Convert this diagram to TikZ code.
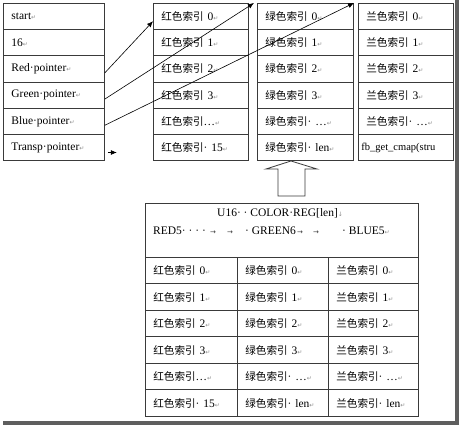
\documentclass[tikz,border=0pt]{standalone}
\usepackage{fontspec}
\setmainfont{Liberation Serif}
\newfontfamily\cjk[Scale=0.92]{Noto Sans CJK SC}
\newfontfamily\symfont{DejaVu Sans}
\usepackage{xcolor}
\usepackage{tikz}
\usetikzlibrary{arrows.meta,positioning,calc}
\definecolor{gridgray}{HTML}{3A3A3A}
\definecolor{markgray}{HTML}{8C8C8C}
\definecolor{framegray}{HTML}{5E5E5E}
\newcommand{\zh}[1]{{\cjk #1}}
\newcommand{\pmk}{{\symfont\fontsize{6}{6}\selectfont\textcolor{markgray}{↵}}}
\newcommand{\brk}{{\symfont\fontsize{6}{6}\selectfont\textcolor{markgray}{↓}}}
\newcommand{\tabmk}{{\symfont\fontsize{7}{7}\selectfont\textcolor{gridgray}{→}}}
\tikzset{
  cell/.style={rectangle,draw=gridgray,line width=0.8pt,anchor=north west,minimum height=26.2pt,inner xsep=8pt,inner ysep=0pt,align=left,font=\fontsize{11.5}{13}\selectfont},
  tcell/.style={cell,minimum height=26.5pt},
  txt/.style={inner sep=0pt,anchor=west,font=\fontsize{11.5}{13}\selectfont},
  ptr/.style={-{Latex[length=6pt,width=5pt]},line width=0.6pt,draw=black},
  hollow/.style={draw=gridgray,line width=0.8pt,fill=white}
}
\begin{document}
\begin{tikzpicture}[x=1pt,y=-1pt]
\useasboundingbox (0,0) rectangle (459,425);
% frame shadow
\fill[framegray] (455,0) rectangle (459,425);
\fill[framegray] (3,421) rectangle (459,425);
% pointer list
\foreach \t [count=\i] in {start,16,Red·pointer,Green·pointer,Blue·pointer,Transp·pointer}
  \node[cell,text width=85pt] (l\i) at (3,{3+(\i-1)*26.2}) {\t\pmk};
% colour arrays
\foreach \t [count=\i] in {{\zh{红色索引}\ 0},{\zh{红色索引}\ 1},{\zh{红色索引}\ 2},{\zh{红色索引}\ 3},{\zh{红色索引}…},{\zh{红色索引}·\ 15}}
  \node[cell,text width=79pt] (r\i) at (153,{3+(\i-1)*26.2}) {\t\pmk};
\foreach \t [count=\i] in {{\zh{绿色索引}\ 0},{\zh{绿色索引}\ 1},{\zh{绿色索引}\ 2},{\zh{绿色索引}\ 3},{\zh{绿色索引}·\ …},{\zh{绿色索引}·\ len}}
  \node[cell,text width=80pt] (g\i) at (257,{3+(\i-1)*26.2}) {\t\pmk};
\foreach \t [count=\i] in {{\zh{兰色索引}\ 0},{\zh{兰色索引}\ 1},{\zh{兰色索引}\ 2},{\zh{兰色索引}\ 3},{\zh{兰色索引}·\ …}}
  \node[cell,text width=79pt] (b\i) at (358,{3+(\i-1)*26.2}) {\t\pmk};
\node[cell,text width=89pt,inner xsep=3pt,font=\fontsize{10.5}{12}\selectfont] (b6) at (358,{3+5*26.2}) {fb\_get\_cmap(stru};
% pointers
\draw[ptr] ([yshift=-4pt]l3.east) -- ($(r1.west)!0.35!(r1.south west)$);
\draw[ptr] ([yshift=-4pt]l4.east) -- ([xshift=-3pt]g1.north west);
\draw[ptr] ([yshift=-4pt]l5.east) -- ([xshift=-4pt]b1.north west);
\coordinate (tp) at ([xshift=12pt,yshift=-5pt]l6.east);
\draw[ptr] ([xshift=3pt,yshift=-5pt]l6.east) -- (tp);
% hollow arrow
\draw[hollow] (291,161) -- (317,169) -- (305,169) -- (305,196) -- (278,196) -- (278,169) -- (266,169) -- cycle;
% COLOR_REG table
\node[draw=gridgray,line width=0.8pt,anchor=north west,minimum width=273pt,minimum height=54pt,inner sep=0pt] (hdr) at (145,203) {};
\node[txt] (h1) at ($(hdr.north west)+(72,10)$) {U16·\ ·\ COLOR·REG[len]\brk};
\node[txt] (h2) at ($(hdr.north west)+(8,28)$) {\makebox[57pt][l]{RED5·\ ·\ ·\ ·}\makebox[17pt][l]{\tabmk}\makebox[18pt][l]{\tabmk}\makebox[52pt][l]{·\ GREEN6}\makebox[16pt][l]{\tabmk}\makebox[29pt][l]{\tabmk}·\ BLUE5\pmk};
\foreach \t [count=\i] in {{\zh{红色索引}\ 0},{\zh{红色索引}\ 1},{\zh{红色索引}\ 2},{\zh{红色索引}\ 3},{\zh{红色索引}…},{\zh{红色索引}·\ 15}}
  \node[tcell,text width=76pt] (tr\i) at (145,{257+(\i-1)*26.5}) {\t\pmk};
\foreach \t [count=\i] in {{\zh{绿色索引}\ 0},{\zh{绿色索引}\ 1},{\zh{绿色索引}\ 2},{\zh{绿色索引}\ 3},{\zh{绿色索引}·\ …},{\zh{绿色索引}·\ len}}
  \node[tcell,text width=75pt] (tg\i) at (237,{257+(\i-1)*26.5}) {\t\pmk};
\foreach \t [count=\i] in {{\zh{兰色索引}\ 0},{\zh{兰色索引}\ 1},{\zh{兰色索引}\ 2},{\zh{兰色索引}\ 3},{\zh{兰色索引}·\ …},{\zh{兰色索引}·\ len}}
  \node[tcell,text width=74pt] (tb\i) at (328,{257+(\i-1)*26.5}) {\t\pmk};
\end{tikzpicture}
\end{document}
